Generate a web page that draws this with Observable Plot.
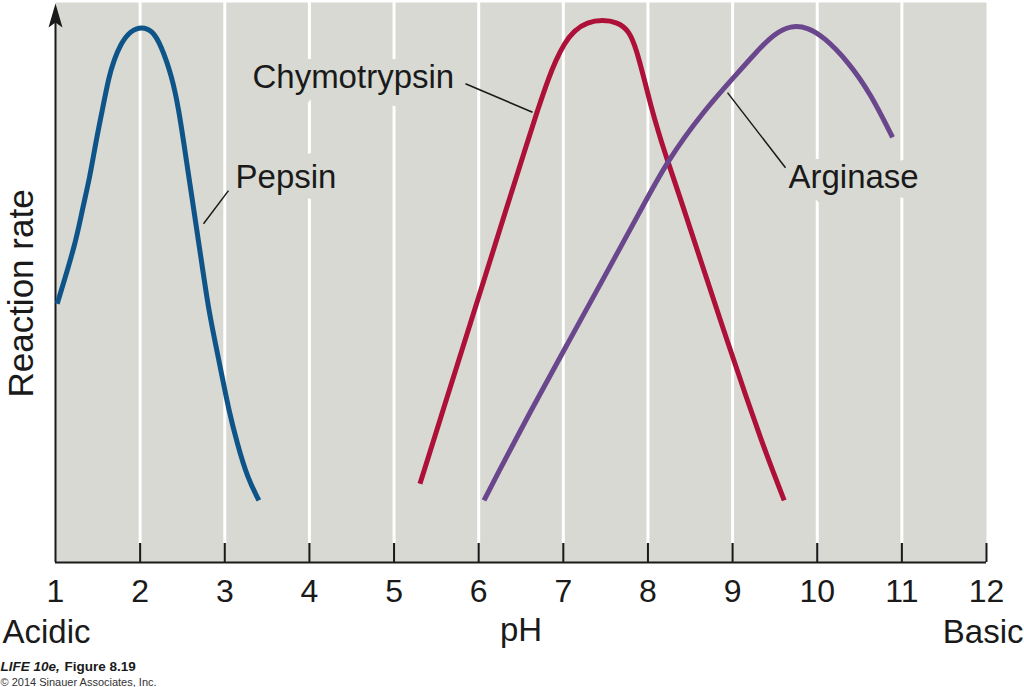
<!DOCTYPE html>
<html>
<head>
<meta charset="utf-8">
<script src="https://cdn.jsdelivr.net/npm/d3@7"></script>
<script src="https://cdn.jsdelivr.net/npm/@observablehq/plot@0.6"></script>
<style>
  html, body { margin: 0; padding: 0; background: #fff; }
  svg { display: block; }
</style>
</head>
<body>
<div id="chart"></div>
<script>
// ---- Data ----
const enzymes = ["Pepsin", "Chymotrypsin", "Arginase"];
const enzymeColors = ["#0f5488", "#ad1038", "#6a468c"];

const pepsinPH   = [1.02, 1.236, 1.315, 1.406, 1.473, 1.552, 1.63, 1.689, 1.768, 1.887, 2.02, 2.143, 2.241, 2.379, 2.458, 2.517, 2.576, 2.635, 2.694, 2.753, 2.812, 2.891, 2.97, 3.049, 3.148, 3.266, 3.403];
const pepsinRate = [46.2, 56.9, 62.9, 68.8, 74.8, 80.7, 86.7, 89.6, 92.6, 95.0, 95.7, 95.0, 92.6, 86.7, 80.7, 74.8, 68.8, 62.9, 56.9, 50.9, 45.0, 39.0, 33.1, 27.1, 21.2, 15.2, 11.1];

const chymoPH   = [5.306, 5.577, 5.825, 6.073, 6.321, 6.570, 6.694, 6.831, 6.91, 7.008, 7.126, 7.284, 7.462, 7.639, 7.777, 7.868, 7.95, 8.034, 8.128, 8.23, 8.368, 8.624, 8.88, 9.176, 9.333, 9.491, 9.61];
const chymoRate = [14.05, 27.1, 39.0, 50.9, 62.9, 74.8, 80.7, 86.7, 89.6, 92.6, 95.0, 96.5, 96.9, 96.5, 95.0, 91.4, 86.6, 81.6, 76.6, 71.8, 65.7, 53.9, 42.1, 28.9, 22.1, 15.7, 11.1];

const arginasePH   = [6.063, 6.201, 6.615, 7.048, 7.481, 7.915, 8.23, 8.663, 9.018, 9.294, 9.491, 9.688, 9.885, 10.081, 10.357, 10.632, 10.89];
const arginaseRate = [11.1, 15.2, 27.1, 39.0, 50.9, 62.9, 71.8, 80.7, 86.7, 91.4, 94.4, 95.9, 95.6, 93.8, 89.6, 83.7, 75.9];

const tickPH = [1, 2, 3, 4, 5, 6, 7, 8, 9, 10, 11, 12];
const gridPH = [2, 3, 4, 5, 6, 7, 8, 9, 10, 11];
const innerTickPH = [2, 3, 4, 5, 6, 7, 8, 9, 10, 11, 12];

// annotation labels (data coordinates) and their leader lines
const labelNames = ["Pepsin", "Chymotrypsin", "Arginase"];
const labelPH    = [3.127, 3.327, 9.66];
const labelRate  = [66.96, 84.8, 66.8];
const leaderFromPH   = [3.044, 5.844, 8.94];
const leaderFromRate = [66.4, 85.5, 83.9];
const leaderToPH     = [2.749, 6.636, 9.625];
const leaderToRate   = [60.5, 80.4, 70.5];

const yTitle = "Reaction rate";
const xTitle = "pH";
const leftEnd = "Acidic";
const rightEnd = "Basic";
const creditBook = "LIFE 10e,";
const creditFigure = "Figure 8.19";
const copyright = "© 2014 Sinauer Associates, Inc.";

// ---- Build tables ----
const toRows = (name, xs, ys) => xs.map((x, i) => ({enzyme: name, pH: x, rate: ys[i]}));
const rows = [
  ...toRows("Pepsin", pepsinPH, pepsinRate),
  ...toRows("Chymotrypsin", chymoPH, chymoRate),
  ...toRows("Arginase", arginasePH, arginaseRate)
];
const labels = labelNames.map((t, i) => ({text: t, pH: labelPH[i], rate: labelRate[i]}));
const leaders = labelNames.map((t, i) => ({
  x1: leaderFromPH[i], y1: leaderFromRate[i], x2: leaderToPH[i], y2: leaderToRate[i]
}));

const bg = "#d7d9d2";
const ink = "#1a1a1a";

// arrowhead symbol for the y axis
const arrowHead = {
  draw(ctx) {
    ctx.moveTo(0, 0);
    ctx.lineTo(7, 24);
    ctx.lineTo(0, 19);
    ctx.lineTo(-7, 24);
    ctx.closePath();
  }
};

const plot = Plot.plot({
  width: 1024,
  height: 687,
  marginLeft: 55,
  marginRight: 38,
  marginTop: 2,
  marginBottom: 125,
  style: {fontFamily: "'Liberation Sans', Arial, Helvetica, sans-serif", color: ink, background: "white"},
  x: {domain: [1, 12], label: null},
  y: {domain: [0, 100], axis: null, label: null},
  color: {domain: enzymes, range: enzymeColors},
  marks: [
    Plot.frame({fill: bg, stroke: null}),
    Plot.ruleX(gridPH, {stroke: "white", strokeWidth: 3, insetBottom: 19}),
    Plot.ruleX(innerTickPH, {stroke: ink, strokeWidth: 2, insetTop: 541}),
    Plot.ruleY([0], {stroke: ink, strokeWidth: 2}),
    Plot.ruleX([1], {stroke: ink, strokeWidth: 2, insetTop: 14}),
    Plot.dot([{pH: 1, rate: 100}], {x: "pH", y: "rate", symbol: arrowHead, r: 5, fill: ink, stroke: null, dy: 1}),
    Plot.line(rows, {x: "pH", y: "rate", z: "enzyme", stroke: "enzyme", strokeWidth: 5, curve: "basis", strokeLinecap: "butt"}),
    Plot.text(labels, {
      x: "pH", y: "rate", text: "text", textAnchor: "start", lineAnchor: "bottom",
      fontSize: 33, fill: ink, stroke: bg, strokeWidth: 22, strokeLinejoin: "round", paintOrder: "stroke"
    }),
    Plot.link(leaders, {x1: "x1", y1: "y1", x2: "x2", y2: "y2", stroke: ink, strokeWidth: 1.5}),
    Plot.axisX({ticks: tickPH, tickSize: 0, tickPadding: 17, fontSize: 32, label: null, tickFormat: d => String(d)}),
    Plot.text([xTitle], {frameAnchor: "bottom", lineAnchor: "bottom", dy: 78, fontSize: 33, fill: ink}),
    Plot.text([leftEnd], {frameAnchor: "bottom-left", textAnchor: "start", lineAnchor: "bottom", dx: -53, dy: 80, fontSize: 33, fill: ink}),
    Plot.text([rightEnd], {frameAnchor: "bottom-right", textAnchor: "end", lineAnchor: "bottom", dx: 37, dy: 80, fontSize: 33, fill: ink}),
    Plot.text([yTitle], {frameAnchor: "left", textAnchor: "middle", lineAnchor: "bottom", rotate: -90, dx: -23, dy: 11, fontSize: 35, fill: ink}),
    Plot.text([creditBook], {frameAnchor: "bottom-left", textAnchor: "start", lineAnchor: "bottom", dx: -55, dy: 108, fontSize: 13.5, fontWeight: "bold", fontStyle: "italic", fill: ink}),
    Plot.text([creditFigure], {frameAnchor: "bottom-left", textAnchor: "start", lineAnchor: "bottom", dx: 9, dy: 108, fontSize: 13.5, fontWeight: "bold", fill: ink}),
    Plot.text([copyright], {frameAnchor: "bottom-left", textAnchor: "start", lineAnchor: "bottom", dx: -55, dy: 123, fontSize: 11, fill: "#333"})
  ]
});

document.getElementById("chart").appendChild(plot);
</script>
</body>
</html>
